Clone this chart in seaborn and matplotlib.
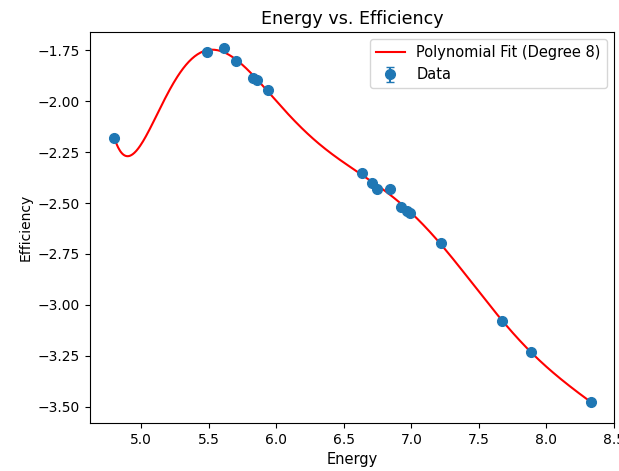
import numpy as np
import pandas as pd
import matplotlib
matplotlib.use("Agg")
import matplotlib.pyplot as plt
import seaborn as sns

energy = [4.80, 5.49, 5.61, 5.70, 5.83, 5.86, 5.94, 6.637, 6.711, 6.748, 6.844,
          6.926, 6.97, 6.993, 7.222, 7.667, 7.889, 8.333]
efficiency = [-2.180, -1.756, -1.741, -1.801, -1.886, -1.896, -1.947, -2.352, -2.401,
              -2.430, -2.430, -2.517, -2.540, -2.550, -2.695, -3.077, -3.233, -3.479]
errors = [0.005] * len(energy)
degree = 8

x = np.array(energy)
y = np.array(efficiency)
coef = np.polyfit(x, y, degree)
xf = np.linspace(x.min(), x.max(), 500)
yf = np.polyval(coef, xf)
fit_df = pd.DataFrame({"Energy": xf, "Efficiency": yf})

fig = plt.figure(figsize=(6.19, 4.71), dpi=100)
ax = fig.add_axes([90/619, 1-423/471, (614-90)/619, (423-32)/471])
ax.errorbar(x, y, yerr=errors, fmt='o', color='#1f77b4', markersize=7,
            capsize=3, label='Data')
sns.lineplot(data=fit_df, x="Energy", y="Efficiency", color='red', ax=ax,
             label=f'Polynomial Fit (Degree {degree})')
ax.set_xlim(4.62, 8.50)
ax.set_ylim(-3.58, -1.66)
ax.set_xticks([5.0, 5.5, 6.0, 6.5, 7.0, 7.5, 8.0, 8.5])
ax.set_yticks([-1.75, -2.00, -2.25, -2.50, -2.75, -3.00, -3.25, -3.50])
ax.set_xlabel("Energy", fontsize=10.5)
ax.set_ylabel("Efficiency")
ax.set_title("Energy vs. Efficiency", fontsize=12.6)
ax.legend(loc='upper right', fontsize=10.5)
fig.savefig("out.png", dpi=100)
